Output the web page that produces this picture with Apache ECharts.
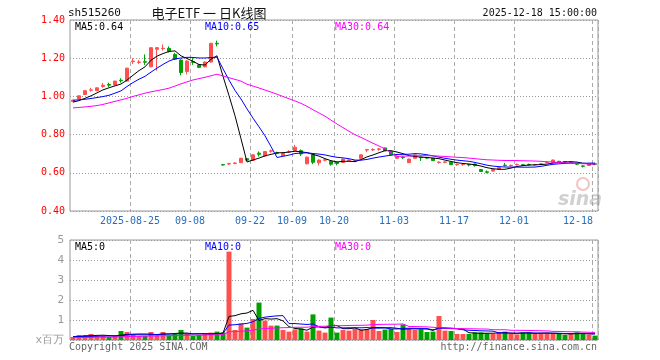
<!DOCTYPE html>
<html><head><meta charset="utf-8">
<script src="https://cdn.jsdelivr.net/npm/echarts@6/dist/echarts.min.js"></script>
<style>html,body{margin:0;padding:0;background:#fff}#c{width:660px;height:360px}</style>
</head><body><div id="c"></div>
<script>
const dates = [
'2025-08-11','2025-08-12','2025-08-13','2025-08-14','2025-08-15','2025-08-18','2025-08-19','2025-08-20','2025-08-21','2025-08-22',
'2025-08-25','2025-08-26','2025-08-27','2025-08-28','2025-08-29','2025-09-01','2025-09-02','2025-09-03','2025-09-04','2025-09-05',
'2025-09-08','2025-09-09','2025-09-10','2025-09-11','2025-09-12','2025-09-15','2025-09-16','2025-09-17','2025-09-18','2025-09-19',
'2025-09-22','2025-09-23','2025-09-24','2025-09-25','2025-09-26','2025-09-29','2025-09-30','2025-10-09','2025-10-10','2025-10-13',
'2025-10-14','2025-10-15','2025-10-16','2025-10-17','2025-10-20','2025-10-21','2025-10-22','2025-10-23','2025-10-24','2025-10-27',
'2025-10-28','2025-10-29','2025-10-30','2025-10-31','2025-11-03','2025-11-04','2025-11-05','2025-11-06','2025-11-07','2025-11-10',
'2025-11-11','2025-11-12','2025-11-13','2025-11-14','2025-11-17','2025-11-18','2025-11-19','2025-11-20','2025-11-21','2025-11-24',
'2025-11-25','2025-11-26','2025-11-27','2025-11-28','2025-12-01','2025-12-02','2025-12-03','2025-12-04','2025-12-05','2025-12-08',
'2025-12-09','2025-12-10','2025-12-11','2025-12-12','2025-12-15','2025-12-16','2025-12-17','2025-12-18'];

const opens = [
0.973,0.987,1.010,1.032,1.030,1.052,1.062,1.060,1.085,1.080,
1.182,1.178,1.182,1.155,1.247,1.250,1.252,1.220,1.190,1.130,
1.182,1.165,1.155,1.180,1.278,0.643,0.646,0.649,0.653,0.674,
0.665,0.703,0.688,0.713,0.706,0.690,0.709,0.716,0.716,0.647,
0.695,0.652,0.666,0.660,0.655,0.654,0.665,0.660,0.676,0.719,
0.720,0.723,0.730,0.711,0.676,0.682,0.653,0.676,0.682,0.680,
0.676,0.654,0.655,0.655,0.642,0.643,0.643,0.646,0.617,0.605,
0.609,0.617,0.640,0.637,0.642,0.642,0.644,0.641,0.645,0.654,
0.655,0.660,0.659,0.654,0.647,0.636,0.638,0.647];
const closes = [
0.980,1.003,1.030,1.034,1.045,1.058,1.059,1.080,1.082,1.148,
1.185,1.180,1.179,1.255,1.255,1.252,1.235,1.195,1.125,1.185,
1.178,1.152,1.180,1.278,1.275,0.641,0.648,0.651,0.676,0.666,
0.694,0.697,0.711,0.715,0.703,0.702,0.711,0.734,0.699,0.682,
0.655,0.667,0.668,0.645,0.649,0.672,0.667,0.662,0.694,0.722,
0.722,0.725,0.716,0.694,0.687,0.679,0.672,0.694,0.679,0.677,
0.664,0.656,0.657,0.643,0.644,0.645,0.641,0.638,0.607,0.603,
0.617,0.627,0.638,0.639,0.644,0.640,0.642,0.643,0.647,0.656,
0.667,0.655,0.657,0.656,0.645,0.634,0.646,0.645];
const lows = [
0.970,0.985,1.008,1.025,1.028,1.045,1.050,1.058,1.072,1.078,
1.170,1.170,1.165,1.152,1.135,1.240,1.230,1.190,1.110,1.115,
1.165,1.148,1.152,1.178,1.262,0.638,0.642,0.645,0.652,0.664,
0.663,0.685,0.686,0.705,0.697,0.688,0.705,0.714,0.688,0.645,
0.645,0.638,0.660,0.637,0.639,0.652,0.660,0.655,0.674,0.708,
0.714,0.716,0.714,0.692,0.674,0.672,0.651,0.674,0.662,0.672,
0.662,0.648,0.650,0.640,0.637,0.637,0.634,0.632,0.605,0.597,
0.607,0.615,0.633,0.633,0.638,0.636,0.637,0.637,0.640,0.650,
0.653,0.653,0.653,0.650,0.640,0.628,0.636,0.640];
const highs = [
0.983,1.005,1.032,1.045,1.047,1.070,1.072,1.082,1.095,1.150,
1.200,1.190,1.220,1.257,1.258,1.272,1.262,1.228,1.195,1.190,
1.200,1.168,1.183,1.280,1.292,0.645,0.652,0.655,0.679,0.676,
0.697,0.712,0.713,0.722,0.710,0.704,0.718,0.746,0.722,0.684,
0.697,0.669,0.672,0.662,0.657,0.674,0.669,0.665,0.696,0.724,
0.728,0.730,0.732,0.713,0.689,0.686,0.674,0.696,0.684,0.684,
0.678,0.660,0.660,0.657,0.648,0.650,0.647,0.648,0.619,0.612,
0.619,0.629,0.652,0.643,0.649,0.646,0.648,0.646,0.650,0.660,
0.669,0.662,0.661,0.660,0.650,0.640,0.648,0.650];
// volume in millions
const volumes = [
0.15,0.25,0.25,0.30,0.20,0.20,0.15,0.20,0.45,0.40,
0.25,0.20,0.20,0.40,0.30,0.40,0.20,0.33,0.50,0.30,
0.20,0.25,0.30,0.37,0.42,0.38,4.42,0.50,0.83,0.62,
1.05,1.87,0.97,0.72,0.72,0.50,0.42,0.53,0.58,0.42,
1.28,0.47,0.37,1.12,0.37,0.50,0.47,0.57,0.53,0.55,
1.00,0.45,0.52,0.55,0.40,0.78,0.55,0.50,0.53,0.40,
0.42,1.20,0.47,0.45,0.30,0.30,0.30,0.38,0.38,0.33,
0.30,0.38,0.42,0.30,0.28,0.38,0.38,0.33,0.33,0.33,
0.30,0.33,0.25,0.33,0.38,0.33,0.28,0.22];

// moving-average values before enough history is visible
const ma5Head  = [0.970,0.978,0.990,1.003];
const ma10Head = [0.980,0.982,0.985,0.989,0.994,0.999,1.006,1.017,1.029];
const ma30Head = [0.940,0.942,0.945,0.948,0.952,0.958,0.966,0.974,0.982,0.990,
  1.000,1.008,1.017,1.024,1.030,1.036,1.043,1.054,1.066,1.076,
  1.086,1.093,1.100,1.108,1.116,1.107,1.098,1.089,1.080];
const vma5Head  = [0.17,0.18,0.20,0.22];
const vma10Head = [0.17,0.17,0.18,0.18,0.19,0.20,0.20,0.20,0.21];
const vma30Head = [0.12,0.12,0.13,0.13,0.14,0.14,0.15,0.15,0.16,0.17,
  0.18,0.18,0.19,0.20,0.20,0.21,0.22,0.22,0.23,0.23,
  0.24,0.24,0.25,0.26,0.26,0.27,0.41,0.42,0.44];

const labelIdx = [10,20,30,37,44,54,64,74,87];
const priceTicks = {min:0.4, max:1.4, step:0.2};
const volTicks = {min:0, max:5, step:1};

const UP = '#ff5050', DOWN = '#00a000';
const MONO = '"DejaVu Sans Mono", "Liberation Mono", monospace';

function ma(arr, n, head) {
  return arr.map((v, i) => {
    if (i < n - 1) return head[i];
    let s = 0; for (let k = i - n + 1; k <= i; k++) s += arr[k];
    return +(s / n).toFixed(4);
  });
}

const chart = echarts.init(document.getElementById('c'), null, {renderer: 'canvas'});
const showIdx = (idx) => labelIdx.indexOf(idx) >= 0;

const xBase = {
  type: 'category', data: dates, boundaryGap: true,
  axisLine: {show: false}, axisTick: {show: false},
  splitLine: {show: true, interval: showIdx, lineStyle: {color: '#aaa', type: [4, 3], width: 1}}
};

const option = {
  animation: false,
  backgroundColor: '#fff',
  grid: [
    {left: 70, top: 20, width: 528, height: 191, show: true, borderColor: '#999', borderWidth: 1},
    {left: 70, top: 240, width: 528, height: 100, show: true, borderColor: '#999', borderWidth: 1}
  ],
  xAxis: [
    Object.assign({}, xBase, {gridIndex: 0,
      axisLabel: {show: true, interval: showIdx, margin: 5, color: '#2a6ebb', fontFamily: MONO, fontSize: 10,
        formatter: (v, idx) => {
          if (idx === 10) return '{a|' + v + '}';
          if (idx === 87) return '{b|' + v.slice(5) + '}';
          return '{a|' + v.slice(5) + '}';
        },
        rich: {a: {color: '#2a6ebb', fontFamily: MONO, fontSize: 10, padding: [0, 6, 0, 0]},
               b: {color: '#2a6ebb', fontFamily: MONO, fontSize: 10, padding: [0, 34, 0, 0]}}
      }}),
    Object.assign({}, xBase, {gridIndex: 1, axisLabel: {show: false}})
  ],
  yAxis: [
    {gridIndex: 0, type: 'value', min: priceTicks.min, max: priceTicks.max, interval: priceTicks.step,
     axisLine: {show: false}, axisTick: {show: false},
     axisLabel: {color: '#f00', fontFamily: MONO, fontSize: 10, margin: 5, formatter: v => v.toFixed(2)},
     splitLine: {show: true, lineStyle: {color: '#999', type: [1, 2], width: 1}}},
    {gridIndex: 1, type: 'value', min: volTicks.min, max: volTicks.max, interval: volTicks.step,
     axisLine: {show: false}, axisTick: {show: false},
     axisLabel: {color: '#999', fontFamily: MONO, fontSize: 11, margin: 6,
       formatter: v => v === 0 ? 'x百万' : String(v)},
     splitLine: {show: true, lineStyle: {color: '#999', type: [1, 2], width: 1}}}
  ],
  series: [
    {type: 'candlestick', xAxisIndex: 0, yAxisIndex: 0, barWidth: 4,
     data: dates.map((d, i) => [opens[i], closes[i], lows[i], highs[i]]),
     itemStyle: {color: UP, color0: DOWN, borderColor: UP, borderColor0: DOWN, borderWidth: 1}},
    {type: 'line', xAxisIndex: 0, yAxisIndex: 0, data: ma(closes, 5, ma5Head), symbol: 'none',
     lineStyle: {color: '#000', width: 1}, z: 3},
    {type: 'line', xAxisIndex: 0, yAxisIndex: 0, data: ma(closes, 10, ma10Head), symbol: 'none',
     lineStyle: {color: '#0000ff', width: 1}, z: 3},
    {type: 'line', xAxisIndex: 0, yAxisIndex: 0, data: ma(closes, 30, ma30Head), symbol: 'none',
     lineStyle: {color: '#ff00ff', width: 1}, z: 3},
    {type: 'bar', xAxisIndex: 1, yAxisIndex: 1, barWidth: 5,
     data: volumes.map((v, i) => ({value: v, itemStyle: {color: closes[i] >= opens[i] ? UP : DOWN}}))},
    {type: 'line', xAxisIndex: 1, yAxisIndex: 1, data: ma(volumes, 5, vma5Head), symbol: 'none',
     lineStyle: {color: '#000', width: 1}, z: 3},
    {type: 'line', xAxisIndex: 1, yAxisIndex: 1, data: ma(volumes, 10, vma10Head), symbol: 'none',
     lineStyle: {color: '#0000ff', width: 1}, z: 3},
    {type: 'line', xAxisIndex: 1, yAxisIndex: 1, data: ma(volumes, 30, vma30Head), symbol: 'none',
     lineStyle: {color: '#ff00ff', width: 1}, z: 3}
  ],
  graphic: [
    {type: 'text', style: {x: 68, y: 13, text: 'sh515260', font: '11px ' + MONO, fill: '#111', textAlign: 'left', textVerticalAlign: 'middle'}},
    {type: 'text', style: {x: 209, y: 13, text: '电子ETF 一 日K线图', font: '13px "Noto Sans CJK SC", sans-serif', fill: '#111', textAlign: 'center', textVerticalAlign: 'middle'}},
    {type: 'text', style: {x: 597, y: 13, text: '2025-12-18 15:00:00', font: '10px ' + MONO, fill: '#111', textAlign: 'right', textVerticalAlign: 'middle'}},
    {type: 'text', style: {x: 75, y: 27, text: 'MA5:0.64', font: '10px ' + MONO, fill: '#000', textAlign: 'left', textVerticalAlign: 'middle'}, z: 10},
    {type: 'text', style: {x: 205, y: 27, text: 'MA10:0.65', font: '10px ' + MONO, fill: '#0000ff', textAlign: 'left', textVerticalAlign: 'middle'}, z: 10},
    {type: 'text', style: {x: 335, y: 27, text: 'MA30:0.64', font: '10px ' + MONO, fill: '#ff00ff', textAlign: 'left', textVerticalAlign: 'middle'}, z: 10},
    {type: 'text', style: {x: 75, y: 247, text: 'MA5:0', font: '10px ' + MONO, fill: '#000', textAlign: 'left', textVerticalAlign: 'middle'}, z: 10},
    {type: 'text', style: {x: 205, y: 247, text: 'MA10:0', font: '10px ' + MONO, fill: '#0000ff', textAlign: 'left', textVerticalAlign: 'middle'}, z: 10},
    {type: 'text', style: {x: 335, y: 247, text: 'MA30:0', font: '10px ' + MONO, fill: '#ff00ff', textAlign: 'left', textVerticalAlign: 'middle'}, z: 10},
    {type: 'text', style: {x: 69, y: 347, text: 'Copyright 2025 SINA.COM', font: '10px ' + MONO, fill: '#666', textAlign: 'left', textVerticalAlign: 'middle'}},
    {type: 'text', style: {x: 597, y: 347, text: 'http://finance.sina.com.cn', font: '10px ' + MONO, fill: '#666', textAlign: 'right', textVerticalAlign: 'middle'}},
    {type: 'circle', shape: {cx: 583, cy: 184, r: 6}, style: {fill: 'none', stroke: 'rgba(230,120,120,0.45)', lineWidth: 2}, z: 1},
    {type: 'text', style: {x: 580, y: 200, text: 'sina', font: 'italic bold 19px "DejaVu Sans", sans-serif', fill: 'rgba(150,150,150,0.45)', textAlign: 'center', textVerticalAlign: 'middle'}, z: 1}
  ]
};
chart.setOption(option);
</script>
</body></html>
